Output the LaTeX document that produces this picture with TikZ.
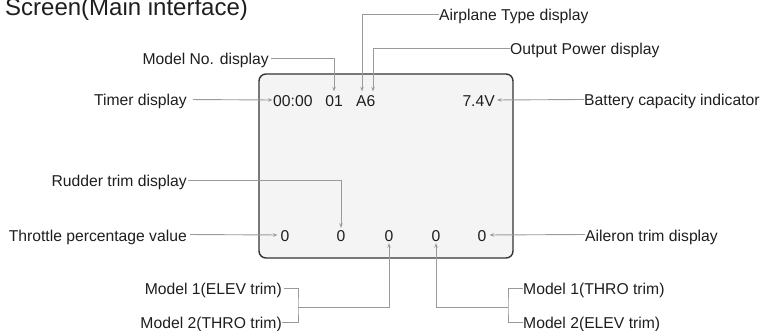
\documentclass[tikz,border=0pt]{standalone}
\usepackage{fontspec}
\setmainfont{Liberation Sans}
\usetikzlibrary{arrows.meta,calc}
\definecolor{txt}{HTML}{1E1E1E}
\definecolor{ln}{HTML}{9A9A9A}
\definecolor{bd}{HTML}{333333}
\definecolor{bg}{HTML}{F4F4F4}
\begin{document}
\begin{tikzpicture}[x=1pt,y=-1pt,
  lbl/.style={inner sep=0pt,text height=13pt,text depth=0pt,text=txt,font=\fontsize{15.7}{18}\selectfont},
  val/.style={lbl},
  conn/.style={draw=ln,line width=0.9pt},
  arr/.style={conn,-{Stealth[length=4.5pt,width=3.5pt]}},
  screenbox/.style={draw=bd,fill=bg,line width=1.4pt,rounded corners=7pt,minimum width=254pt,minimum height=184pt,inner sep=0pt}
]
\useasboundingbox (0,0) rectangle (768,331);
\node[screenbox] (scr) at (386,166) {};
\node[anchor=base west,inner sep=0pt,text=txt,font=\fontsize{24}{28}\selectfont] (title) at (5,16) {Screen(Main interface)};
% values in screen
\node[val,anchor=west] (t0) at (273,100) {00:00};
\node[val] (m01) at (334,100) {01};
\node[val,anchor=west] (a6) at (356,100) {A6};
\node[val,anchor=east] (bat) at (495,100) {7.4V};
\node[val] (z1) at (285,235) {0};
\node[val] (z2) at (341,235) {0};
\node[val] (z3) at (389,235) {0};
\node[val] (z4) at (436,235) {0};
\node[val] (z5) at (482,235) {0};
% labels
\node[lbl,anchor=east] (modelno) at (269,58) {Model No. display};
\node[lbl,anchor=east] (timer) at (187,99.5) {Timer display};
\node[lbl,anchor=west] (plane) at (439,14.5) {Airplane Type display};
\node[lbl,anchor=west] (power) at (510,48) {Output Power display};
\node[lbl,anchor=west] (battery) at (584,99.5) {Battery capacity indicator};
\node[lbl,anchor=east] (rudder) at (187,180.5) {Rudder trim display};
\node[lbl,anchor=east] (throttle) at (187,234.5) {Throttle percentage value};
\node[lbl,anchor=west] (aileron) at (585,234.5) {Aileron trim display};
\node[lbl,anchor=east] (mAelev) at (282,288) {Model 1(ELEV trim)};
\node[lbl,anchor=east] (mBthro) at (282,322) {Model 2(THRO trim)};
\node[lbl,anchor=west] (mAthro) at (523,288) {Model 1(THRO trim)};
\node[lbl,anchor=west] (mBelev) at (523,322) {Model 2(ELEV trim)};
\coordinate (bl) at (298,307);
\coordinate (br) at (508,307);
% connectors
\draw[arr,shorten <=2pt,shorten >=2pt] (modelno.east) -| (m01.north);
\draw[arr,shorten <=6pt,shorten >=0.5pt] (timer.east) -- (t0.west);
\draw[arr,shorten >=2pt] (plane.west) -| ([xshift=6pt]a6.north west);
\draw[arr,shorten >=2pt] (power.west) -| ([xshift=17pt]a6.north west);
\draw[arr,shorten >=2pt] (battery.west) -- (bat.east);
\draw[arr,shorten <=1pt,shorten >=0.5pt] (rudder.east) -| (z2.north);
\draw[arr,shorten <=3pt,shorten >=3pt] (throttle.east) -- (z1.west);
\draw[arr,shorten >=3pt] (aileron.west) -- (z5.east);
\draw[conn,shorten <=2pt] (mAelev.east) -| (bl) |- (mBthro.east);
\draw[arr,shorten >=1.5pt] (bl) -| (z3.south);
\draw[conn] (mAthro.west) -| (br) |- (mBelev.west);
\draw[arr,shorten >=1.5pt] (br) -| (z4.south);
\end{tikzpicture}
\end{document}
